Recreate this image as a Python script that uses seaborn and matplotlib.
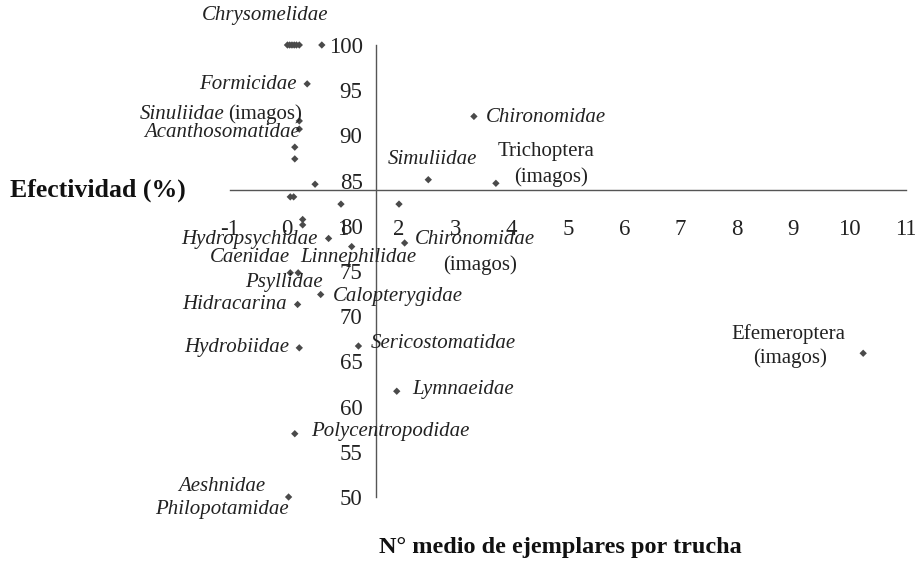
import matplotlib
matplotlib.use("Agg")
import matplotlib.pyplot as plt
import seaborn as sns
import pandas as pd

# Values
x_vals = [0.02, 0.06, 0.10, 0.14, 0.18, 0.23, 0.63, 0.37, 0.23, 0.23, 0.15, 0.15,
          0.51, 0.07, 0.13, 0.97, 2.00, 0.29, 0.29, 0.75, 1.16, 2.10, 0.07, 0.21,
          0.61, 0.20, 1.28, 0.23, 1.96, 0.15, 0.04, 2.52, 3.72, 3.33, 10.24]
y_vals = [100, 100, 100, 100, 100, 100, 100, 95.7, 91.6, 90.7, 88.7, 87.4,
          84.6, 83.2, 83.2, 82.4, 82.4, 80.7, 80.1, 78.6, 77.7, 78.1, 74.8, 74.8,
          72.4, 71.3, 66.7, 66.5, 61.7, 57.0, 50.0, 85.1, 84.7, 92.1, 65.9]

x_ticks = list(range(-1, 12))
y_ticks = list(range(50, 101, 5))

# label text, x, y, alignment, italic?
labels = [
    ("Chrysomelidae", -0.38, 103.3, "center", True),
    ("Formicidae", 0.19, 95.6, "right", True),
    ("Acanthosomatidae", 0.24, 90.3, "right", True),
    ("Simuliidae", 2.59, 87.3, "center", True),
    ("Trichoptera", 4.61, 88.2, "center", False),
    ("(imagos)", 4.70, 85.4, "center", False),
    ("Chironomidae", 3.55, 92.0, "left", True),
    ("Hydropsychidae", 0.56, 78.5, "right", True),
    ("Caenidae", 0.07, 76.5, "right", True),
    ("Linnephilidae", 0.24, 76.5, "left", True),
    ("Chironomidae", 2.28, 78.5, "left", True),
    ("(imagos)", 3.44, 75.6, "center", False),
    ("Psyllidae", 0.65, 73.7, "right", True),
    ("Calopterygidae", 0.83, 72.2, "left", True),
    ("Hidracarina", 0.01, 71.3, "right", True),
    ("Hydrobiidae", 0.05, 66.5, "right", True),
    ("Sericostomatidae", 1.49, 67.0, "left", True),
    ("Lymnaeidae", 2.23, 61.9, "left", True),
    ("Polycentropodidae", 0.44, 57.2, "left", True),
    ("Aeshnidae", -0.38, 51.2, "right", True),
    ("Philopotamidae", 0.05, 48.6, "right", True),
    ("Efemeroptera", 8.92, 68.0, "center", False),
    ("(imagos)", 8.94, 65.4, "center", False),
]

df = pd.DataFrame({"x": x_vals, "y": y_vals})

sns.set_style("white")
plt.rcParams["font.family"] = ["Liberation Serif", "DejaVu Serif"]
plt.rcParams["axes.unicode_minus"] = False

fig = plt.figure(figsize=(9.15, 5.75), dpi=100)
ax = fig.add_axes([230 / 915, 1 - 497 / 575, 676 / 915, 452 / 575])

sns.scatterplot(data=df, x="x", y="y", marker="D", s=14, color="#4a4a4a",
                edgecolor="none", ax=ax, clip_on=False, zorder=3)

ax.set_xlim(-1, 11)
ax.set_ylim(50, 100)
ax.set_xticks(x_ticks)
ax.set_yticks(y_ticks)
ax.set_xlabel("")
ax.set_ylabel("")

for s in ["top", "right"]:
    ax.spines[s].set_visible(False)
ax.spines["left"].set_position(("data", 1.6))
ax.spines["bottom"].set_position(("data", 84))
for s in ["left", "bottom"]:
    ax.spines[s].set_color("#555555")
    ax.spines[s].set_linewidth(1.0)

ax.tick_params(axis="both", direction="out", length=5, width=1, color="#555555",
               labelsize=16.5, labelcolor="#222222")
ax.tick_params(axis="x", pad=16)
ax.tick_params(axis="y", pad=5)

fs = 15
for txt, lx, ly, ha, it in labels:
    ax.text(lx, ly, txt, ha=ha, va="center", fontsize=fs,
            style="italic" if it else "normal", color="#222222", clip_on=False)

# "Sinuliidae (imagos)": italic name followed by roman text
imag = ax.text(0.28, 92.3, "(imagos)", ha="right", va="center", fontsize=fs,
               color="#222222", clip_on=False)
ax.annotate("Sinuliidae", xy=(0, 0.5), xycoords=imag, xytext=(-3, 0),
            textcoords="offset points", ha="right", va="center", fontsize=fs,
            style="italic", color="#222222")

fig.text(10 / 915, 1 - 190 / 575, "Efectividad (%)", fontsize=18.5, fontweight="bold",
         va="center", ha="left", color="#111111")
fig.text(560 / 915, 1 - 548 / 575, "N° medio de ejemplares por trucha", fontsize=17.5,
         fontweight="bold", va="center", ha="center", color="#111111")

fig.savefig("out.png", dpi=100)
